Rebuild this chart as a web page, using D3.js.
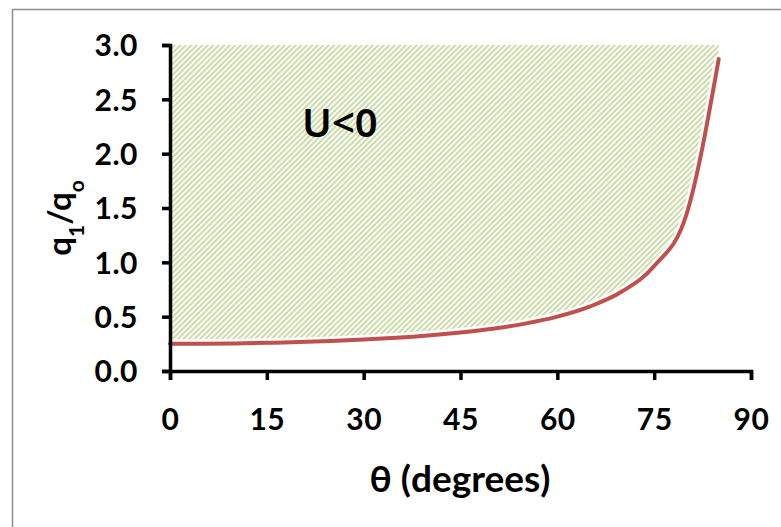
<!DOCTYPE html>
<html><head><meta charset="utf-8">
<script src="https://cdn.jsdelivr.net/npm/d3@7"></script>
<style>
html,body{margin:0;padding:0;background:#fff;}
svg{display:block;}
text{font-family:Lato, "Open Sans", sans-serif;font-weight:bold;fill:#000;}
</style></head>
<body>
<script>
// Data
const thetaDeg = [0,5,10,15,20,25,30,35,40,45,50,55,60,65,70,75,80,85];
const q1q0 = [0.25,0.251,0.254,0.259,0.266,0.276,0.289,0.305,0.326,0.354,0.389,0.436,0.50,0.592,0.731,0.966,1.44,2.87];
const xTicks = [0,15,30,45,60,75,90];
const yTicks = [0.0,0.5,1.0,1.5,2.0,2.5,3.0];
const regionLabel = "U<0";
const xTitle = "θ (degrees)";

const W = 781, H = 527;
const svg = d3.select("body").append("svg").attr("width", W).attr("height", H);

// outer frame
svg.append("rect").attr("x", 12.5).attr("y", 9.5).attr("width", 900).attr("height", 700)
  .attr("fill", "none").attr("stroke", "#8c8c8c").attr("stroke-width", 1.5);

const x = d3.scaleLinear().domain([0, 90]).range([170, 751]);
const y = d3.scaleLinear().domain([0, 3]).range([371, 45]);

const defs = svg.append("defs");
const T = 5.5;
const pat = defs.append("pattern").attr("id", "hatch").attr("patternUnits", "userSpaceOnUse")
  .attr("width", T).attr("height", T);
pat.append("rect").attr("width", T).attr("height", T).attr("fill", "#fff");
pat.append("path").attr("d", `M-1,1 l2,-2 M0,${T} l${T},-${T} M${T-1},${T+1} l2,-2`)
  .attr("stroke", "#c8daa5").attr("stroke-width", 2);

const pts = thetaDeg.map((t, i) => ({t, v: q1q0[i]}));
const curve = d3.curveMonotoneX;

const area = d3.area().x(d => x(d.t)).y0(d => y(d.v)).y1(y(3)).curve(curve);
svg.append("path").datum(pts).attr("d", area).attr("fill", "url(#hatch)");

const line = d3.line().x(d => x(d.t)).y(d => y(d.v)).curve(curve);
svg.append("path").datum(pts).attr("d", line).attr("fill", "none")
  .attr("stroke", "#fff").attr("stroke-width", 9);
svg.append("path").datum(pts).attr("d", line).attr("fill", "none")
  .attr("stroke", "#c0504d").attr("stroke-width", 4).attr("stroke-linecap", "round");

// axes
const yAxis = svg.append("g").attr("transform", `translate(${x(0)},0)`)
  .call(d3.axisLeft(y).tickValues(yTicks).tickFormat(d3.format(".1f")).tickSizeOuter(0).tickSize(8).tickPadding(24));
const xAxis = svg.append("g").attr("transform", `translate(0,${y(0)})`)
  .call(d3.axisBottom(x).tickValues(xTicks).tickFormat(d3.format("d")).tickSizeOuter(0).tickSize(9).tickPadding(29));
[yAxis, xAxis].forEach(g => {
  g.attr("font-size", null).attr("font-family", null);
  g.select(".domain").attr("stroke", "#000").attr("stroke-width", 3.5);
  g.selectAll(".tick line").attr("stroke", "#000").attr("stroke-width", 3.5);
  g.selectAll(".tick text").style("font-size", "30px").style("font-weight", "bold")
    .style("letter-spacing", "0.5px")
    .style("font-family", "Lato, 'Open Sans', sans-serif").attr("fill", "#000");
});
yAxis.selectAll(".tick text").attr("dy", "0.36em");

// region label
svg.append("text").attr("x", 302).attr("y", 137).text(regionLabel)
  .style("font-family", "'Noto Sans', sans-serif").style("font-weight", "600").style("font-size", "40px");

// x title
svg.append("text").attr("x", 460).attr("y", 492).attr("text-anchor", "middle")
  .style("font-size", "37px").text(xTitle);

// y title
const yt = svg.append("text").attr("transform", "translate(71,218) rotate(-90)").attr("text-anchor", "middle")
  .style("font-size", "33px");
yt.append("tspan").text("q");
yt.append("tspan").attr("baseline-shift", "sub").style("font-size", "21px").text("1");
yt.append("tspan").text("/q");
yt.append("tspan").attr("baseline-shift", "sub").style("font-size", "21px").text("o");
</script>
</body></html>
